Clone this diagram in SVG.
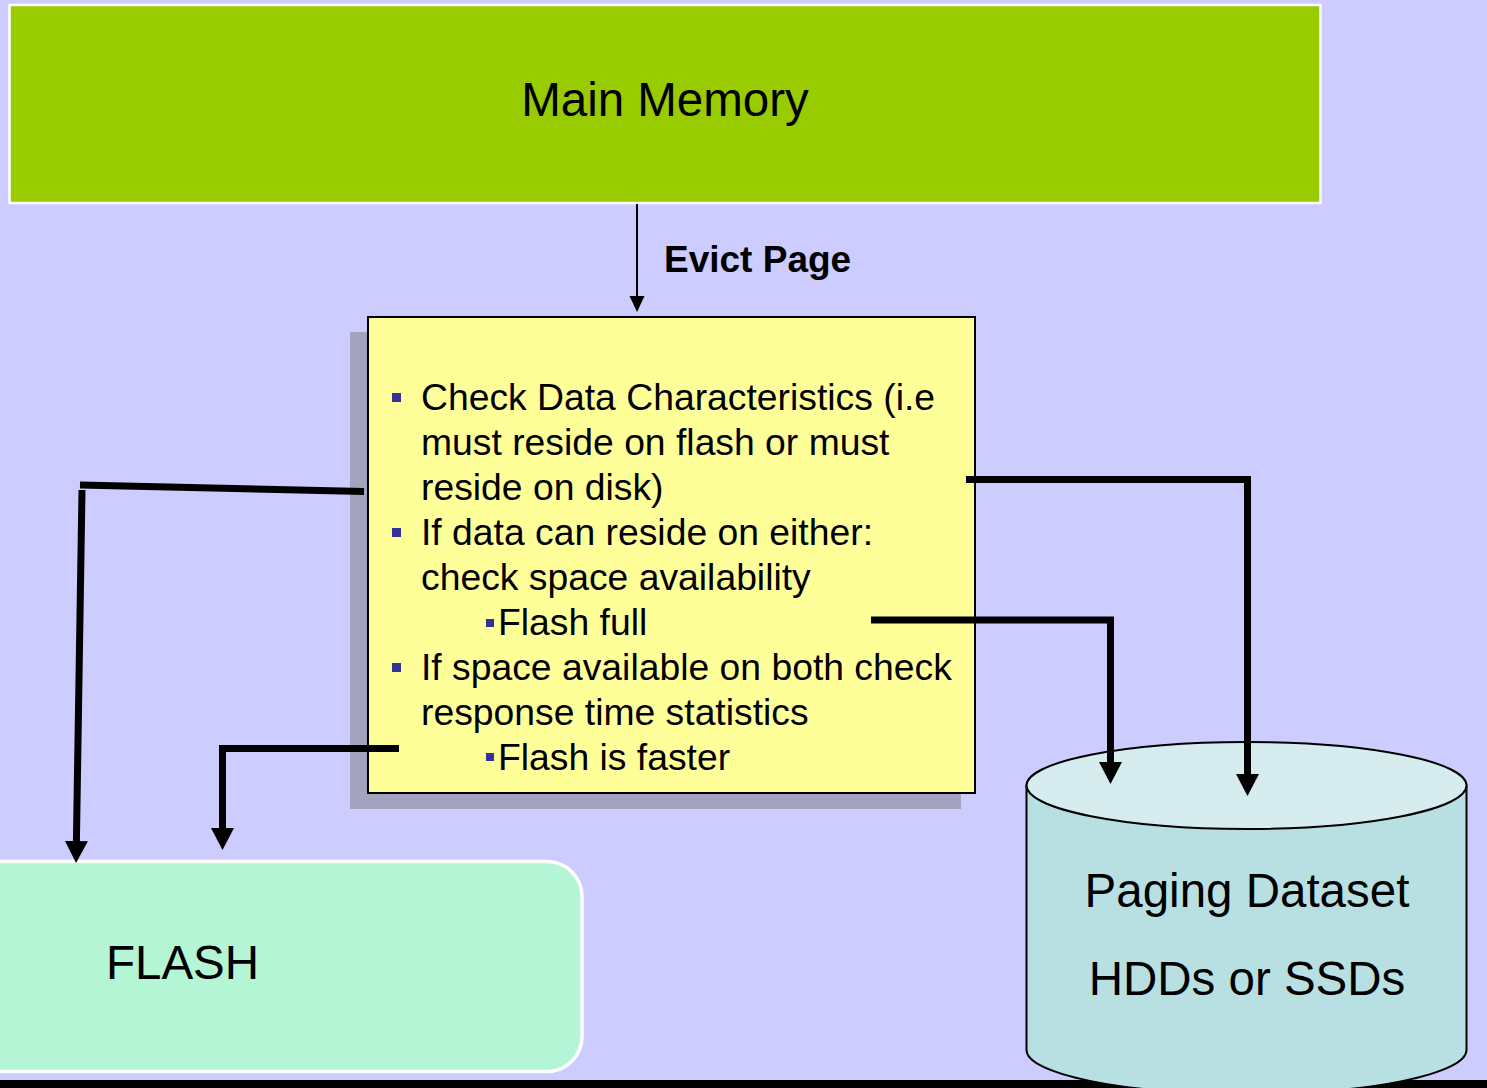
<svg xmlns="http://www.w3.org/2000/svg" width="1487" height="1088" viewBox="0 0 1487 1088">
  <defs>
    <style>
      .txt { font-family: "Liberation Sans", Arial, sans-serif; fill: #000; }
      .big { font-size: 47.5px; }
      .body { font-size: 37.3px; }
      .label { font-size: 37px; font-weight: bold; }
      .bullet { fill: #333399; }
      .flow { fill: none; stroke: #000; stroke-width: 7; stroke-linejoin: miter; stroke-linecap: butt; }
      .thin { fill: none; stroke: #000; stroke-width: 2; }
    </style>
    <marker id="headBig" markerUnits="userSpaceOnUse" markerWidth="24" markerHeight="24" refX="1" refY="11.5" orient="auto">
      <path d="M0,0 L22,11.5 L0,23 Z" fill="#000"/>
    </marker>
    <marker id="headSmall" markerUnits="userSpaceOnUse" markerWidth="18" markerHeight="16" refX="1" refY="7.5" orient="auto">
      <path d="M0,0 L16,7.5 L0,15 Z" fill="#000"/>
    </marker>
  </defs>

  <!-- page background -->
  <rect x="0" y="0" width="1487" height="1088" fill="#CCCCFF"/>
  <!-- bottom rule -->
  <rect x="0" y="1080" width="1487" height="8" fill="#000"/>

  <!-- Main Memory -->
  <g id="main-memory">
    <rect x="9.5" y="5" width="1311" height="198" fill="#99CC00" stroke="#FFFFFF" stroke-width="2.5"/>
    <text class="txt big" x="665" y="116" text-anchor="middle">Main Memory</text>
  </g>

  <!-- Placement decision box -->
  <g id="decision">
    <rect x="350" y="332" width="611" height="477" fill="#A3A3BF"/>
    <rect x="368" y="317" width="607" height="476" fill="#FFFF99" stroke="#000" stroke-width="2"/>
    <rect class="bullet" x="392" y="393" width="9" height="9"/>
    <text class="txt body" x="421" y="410">Check Data Characteristics (i.e</text>
    <text class="txt body" x="421" y="455">must reside on flash or must</text>
    <text class="txt body" x="421" y="500">reside on disk)</text>
    <rect class="bullet" x="392" y="528" width="9" height="9"/>
    <text class="txt body" x="421" y="545">If data can reside on either:</text>
    <text class="txt body" x="421" y="590">check space availability</text>
    <rect class="bullet" x="486" y="619" width="8" height="8"/>
    <text class="txt body" x="498" y="635">Flash full</text>
    <rect class="bullet" x="486" y="753" width="8" height="8"/>
    <rect class="bullet" x="392" y="663" width="9" height="9"/>
    <text class="txt body" x="421" y="680">If space available on both check</text>
    <text class="txt body" x="421" y="725">response time statistics</text>
    <text class="txt body" x="498" y="770">Flash is faster</text>
  </g>

  <!-- FLASH -->
  <g id="flash">
    <rect x="-40" y="861.5" width="622" height="210" rx="35" ry="35" fill="#B3F5D5" stroke="#FFFFFF" stroke-width="3.5"/>
    <text class="txt big" x="106" y="979">FLASH</text>
  </g>

  <!-- Paging Dataset cylinder -->
  <g id="paging-dataset">
    <path d="M1026.5,785.5 L1026.5,1050 A220,44 0 0 0 1466.5,1050 L1466.5,785.5 Z" fill="#B8E0E3" stroke="#000" stroke-width="2"/>
    <ellipse cx="1246.5" cy="785.5" rx="220" ry="43.5" fill="#D6ECEF" stroke="#000" stroke-width="2"/>
    <text class="txt big" x="1247" y="907" text-anchor="middle">Paging Dataset</text>
    <text class="txt big" x="1247" y="995" text-anchor="middle">HDDs or SSDs</text>
  </g>

  <!-- Connectors -->
  <g id="connectors">
    <line class="thin" x1="637" y1="204" x2="637" y2="297" marker-end="url(#headSmall)"/>
    <text class="txt label" x="664" y="272">Evict Page</text>

    <line class="flow" x1="364" y1="491.5" x2="80" y2="485"/>
    <line class="flow" x1="82" y1="490" x2="76.4" y2="842" marker-end="url(#headBig)"/>

    <polyline class="flow" points="399,748.5 222.5,748.5 222.5,829" marker-end="url(#headBig)"/>
    <polyline class="flow" points="966,479.5 1247.5,479.5 1247.5,775" marker-end="url(#headBig)"/>
    <polyline class="flow" points="871,620 1110.5,620 1110.5,763" marker-end="url(#headBig)"/>
  </g>
</svg>
